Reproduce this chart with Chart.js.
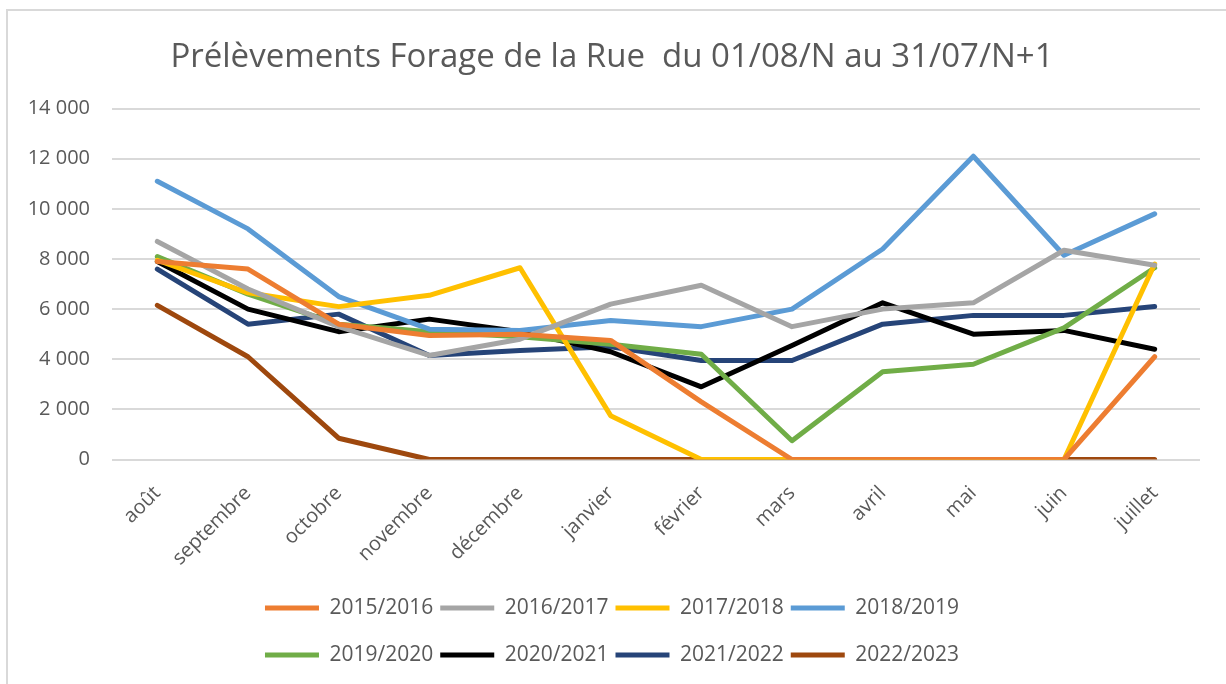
<!DOCTYPE html>
<html><head><meta charset="utf-8">
<script src="https://cdn.jsdelivr.net/npm/chart.js@4/dist/chart.umd.min.js"></script>
<style>
html,body{margin:0;padding:0;background:#fff;width:1226px;height:684px;overflow:hidden;}
#frame{position:absolute;left:6px;top:9px;width:1240px;height:700px;border:2px solid #d9d9d9;box-sizing:border-box;}
#wrap{position:absolute;left:0;top:0;width:1226px;height:684px;}
</style></head>
<body>
<div id="frame"></div>
<div id="wrap"><canvas id="c" width="1226" height="684"></canvas></div>
<script>
const categories = ['août','septembre','octobre','novembre','décembre','janvier','février','mars','avril','mai','juin','juillet'];
const seriesNames = ['2015/2016','2016/2017','2017/2018','2018/2019','2019/2020','2020/2021','2021/2022','2022/2023'];
const s2015 = [7900, 7600, 5400, 4950, 5000, 4750, 2300, 0, 0, 0, 0, 4100];
const s2016 = [8700, 6800, 5300, 4150, 4800, 6200, 6950, 5300, 6000, 6250, 8350, 7750];
const s2017 = [7950, 6650, 6100, 6550, 7650, 1750, 0, 0, 0, 0, 0, 7800];
const s2018 = [11100, 9200, 6500, 5200, 5150, 5550, 5300, 6000, 8400, 12100, 8150, 9800];
const s2019 = [8100, 6600, 5400, 5100, 4900, 4600, 4200, 750, 3500, 3800, 5250, 7650];
const s2020 = [7900, 6000, 5100, 5600, 5100, 4300, 2900, 4550, 6250, 5000, 5150, 4400];
const s2021 = [7600, 5400, 5800, 4150, 4350, 4500, 3950, 3950, 5400, 5750, 5750, 6100];
const s2022 = [6150, 4100, 850, 0, 0, 0, 0, 0, 0, 0, 0, 0];
const yTickLabels = ['0','2 000','4 000','6 000','8 000','10 000','12 000','14 000'];
const colors = ['#ED7D31','#A5A5A5','#FFC000','#5B9BD5','#70AD47','#000000','#264478','#9E480E'];
const allSeries = [s2015,s2016,s2017,s2018,s2019,s2020,s2021,s2022];

// Legend: four entries per row, tight horizontal spacing, wider row spacing (as in the reference)
const LEGEND_ROW_WIDTH = 800;
const LEGEND_FONT = 21;
const LEGEND_PAD = 7;
const LEGEND_PER_ROW = 4;
const LEGEND_ROW_STEP = 47;
const legendPlugin = Chart.registry.getPlugin('legend');
const LegendEl = legendPlugin && legendPlugin._element;
if (LegendEl) {
  const oFit = LegendEl.prototype.fit;
  LegendEl.prototype.fit = function () {
    const horiz = this.isHorizontal();
    const mw = this.maxWidth;
    if (horiz) this.maxWidth = Math.min(mw, LEGEND_ROW_WIDTH);
    oFit.call(this);
    if (horiz) {
      this.maxWidth = mw; this.width = mw;
      const rows = this.lineWidths ? this.lineWidths.length : 1;
      this.height += (rows - 1) * (LEGEND_ROW_STEP - (LEGEND_FONT + LEGEND_PAD));
    }
  };
  const oDraw = LegendEl.prototype._draw;
  LegendEl.prototype._draw = function () {
    if (!this.isHorizontal()) { oDraw.call(this); return; }
    const l = this.left, r = this.right, t = this.top, items = this.legendItems, lw = this.lineWidths;
    const c = (l + r) / 2, w = Math.min(r - l, LEGEND_ROW_WIDTH);
    this.left = c - w / 2; this.right = c + w / 2;
    for (let row = 0; row * LEGEND_PER_ROW < items.length; row++) {
      this.legendItems = items.slice(row * LEGEND_PER_ROW, (row + 1) * LEGEND_PER_ROW);
      this.lineWidths = [lw[row] !== undefined ? lw[row] : lw[0]];
      this.top = t + row * LEGEND_ROW_STEP;
      oDraw.call(this);
    }
    this.legendItems = items; this.lineWidths = lw;
    this.left = l; this.right = r; this.top = t;
  };
}

const FONT = "'Open Sans', sans-serif";
new Chart(document.getElementById('c'), {
  type: 'line',
  data: {
    labels: categories,
    datasets: allSeries.map((d,i)=>({
      label: seriesNames[i], data: d, borderColor: colors[i], backgroundColor: colors[i],
      borderWidth: 5, pointRadius: 0, tension: 0, borderJoinStyle: 'round', borderCapStyle: 'round', fill: false
    }))
  },
  options: {
    responsive: false, animation: false, devicePixelRatio: 1,
    layout: { padding: { left: 24, right: 26, top: 0, bottom: 8.5 } },
    plugins: {
      title: { display: true, text: 'Prélèvements Forage de la Rue  du 01/08/N au 31/07/N+1',
        color: '#595959', font: { family: FONT, size: 33, weight: 'normal' }, padding: { top: 38, bottom: 31 } },
      legend: { position: 'bottom',
        labels: { usePointStyle: true, pointStyle: 'line', pointStyleWidth: 54, color: '#595959',
          font: { family: FONT, size: LEGEND_FONT }, padding: LEGEND_PAD } },
      tooltip: { enabled: false }
    },
    scales: {
      x: { offset: true, grid: { display: false }, border: { display: false },
        afterFit: (s) => { s.height = 131; },
        ticks: { color: '#595959', font: { family: FONT, size: 20 }, minRotation: 45, maxRotation: 45, padding: 14 } },
      y: { min: 0, max: 14000, grid: { color: '#d9d9d9', lineWidth: 2, drawTicks: false }, border: { display: false },
        afterFit: (s) => { s.width = 88; },
        ticks: { stepSize: 2000, color: '#595959', font: { family: FONT, size: 20 }, padding: 22,
          callback: (v) => yTickLabels[Math.round(v/2000)] } }
    }
  }
});
</script>
</body></html>
